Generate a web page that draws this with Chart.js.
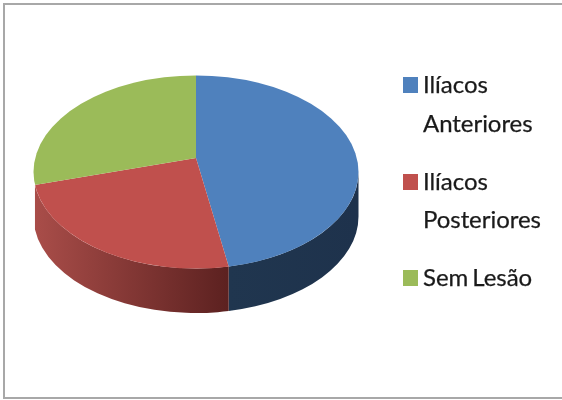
<!DOCTYPE html>
<html lang="pt">
<head>
<meta charset="utf-8">
<title>Lesões</title>
<script src="https://cdn.jsdelivr.net/npm/chart.js@4"></script>
<style>
  html, body { margin: 0; padding: 0; background: #fff; }
  #wrap { position: relative; width: 562px; height: 400px; overflow: hidden; }
  #frame { position: absolute; left: 3px; top: 3px; width: 600px; height: 392px; border: 2px solid #a8a8a8; }
  #pie { position: absolute; left: 0; top: 0; }
  #legend { position: absolute; left: 403px; top: 65px; margin: 0; padding: 0; list-style: none;
            font: 24px Lato, sans-serif; line-height: 38.5px; color: #1a1a1a;
            word-spacing: -2px; letter-spacing: -0.05px; -webkit-text-stroke: 0.25px #1a1a1a; }
  #legend li { position: relative; padding-left: 20px; width: 130px; margin-bottom: 19.5px; }
  #legend i { position: absolute; left: 0; top: 12px; width: 15px; height: 16px; }
</style>
</head>
<body>
<div id="wrap">
  <div id="frame"></div>
  <canvas id="pie" width="562" height="400"></canvas>
  <ul id="legend"></ul>
</div>
<script>
const labels = ['Ilíacos Anteriores', 'Ilíacos Posteriores', 'Sem Lesão'];
const values = [47.2, 23.4, 29.4];
const faceColors = ['#4f81bd', '#c0504d', '#9bbb59'];
// side wall shading, left to right; the green slice shows no wall
const wallColors = [['#20364f', '#1e324c'], ['#a94d49', '#5c2120'], null];

// tilted disc: rim ellipse, hub (off centre for the perspective) and wall height
const disc = { cx: 196, cy: 172, rx: 162.5, ry: 96.5, hubX: 196, hubY: 158, depth: 44.5, tilt: 0.59 };

// parameter on the rim ellipse where a slice edge at chart angle a meets it
function rimParam(a) {
  const dx = Math.cos(a) / disc.rx;
  const dy = Math.sin(a) * disc.tilt / disc.ry;
  const oy = (disc.hubY - disc.cy) / disc.ry;
  const A = dx * dx + dy * dy;
  const B = 2 * oy * dy;
  const C = oy * oy - 1;
  const t = (-B + Math.sqrt(B * B - 4 * A * C)) / (2 * A);
  return Math.atan2(oy + t * dy, t * dx);
}

function drawWall(ctx, arc, stops) {
  let from = rimParam(arc.startAngle);
  let to = rimParam(arc.endAngle);
  // only the front half of the rim has a visible wall
  if (from < -Math.PI / 2 || from > Math.PI) from = 0;
  from = Math.max(from, 0);
  if (to < 0) to = Math.PI;
  to = Math.min(to, Math.PI);
  const { cx, cy, rx, ry, depth } = disc;
  const x0 = cx + rx * Math.cos(to);
  const x1 = cx + rx * Math.cos(from);
  const grad = ctx.createLinearGradient(x0, 0, x1, 0);
  grad.addColorStop(0, stops[0]);
  grad.addColorStop(1, stops[1]);
  ctx.beginPath();
  ctx.ellipse(cx, cy, rx, ry, 0, from, to);
  ctx.ellipse(cx, cy + depth, rx, ry, 0, to, from, true);
  ctx.closePath();
  ctx.fillStyle = grad;
  ctx.fill();
}

const tiltedDisc = {
  id: 'tiltedDisc',
  beforeDatasetsDraw(chart) {
    const ctx = chart.ctx;
    const arcs = chart.getDatasetMeta(0).data;
    arcs.forEach((arc, i) => { if (wallColors[i]) drawWall(ctx, arc, wallColors[i]); });
    ctx.save();
    ctx.beginPath();
    ctx.ellipse(disc.cx, disc.cy, disc.rx, disc.ry, 0, 0, Math.PI * 2);
    ctx.clip();
    ctx.translate(disc.hubX, disc.hubY);
    ctx.scale(1, disc.tilt);
    ctx.translate(-arcs[0].x, -arcs[0].y);
  },
  afterDatasetsDraw(chart) {
    chart.ctx.restore();
  }
};

new Chart(document.getElementById('pie'), {
  type: 'pie',
  data: {
    labels: labels,
    datasets: [{ data: values, backgroundColor: faceColors, borderWidth: 0 }]
  },
  options: {
    responsive: false,
    animation: false,
    plugins: { legend: { display: false }, tooltip: { enabled: false } }
  },
  plugins: [tiltedDisc]
});

document.getElementById('legend').innerHTML = labels.map((label, i) =>
  `<li><i style="background:${faceColors[i]}"></i>${label}</li>`
).join('');
</script>
</body>
</html>
